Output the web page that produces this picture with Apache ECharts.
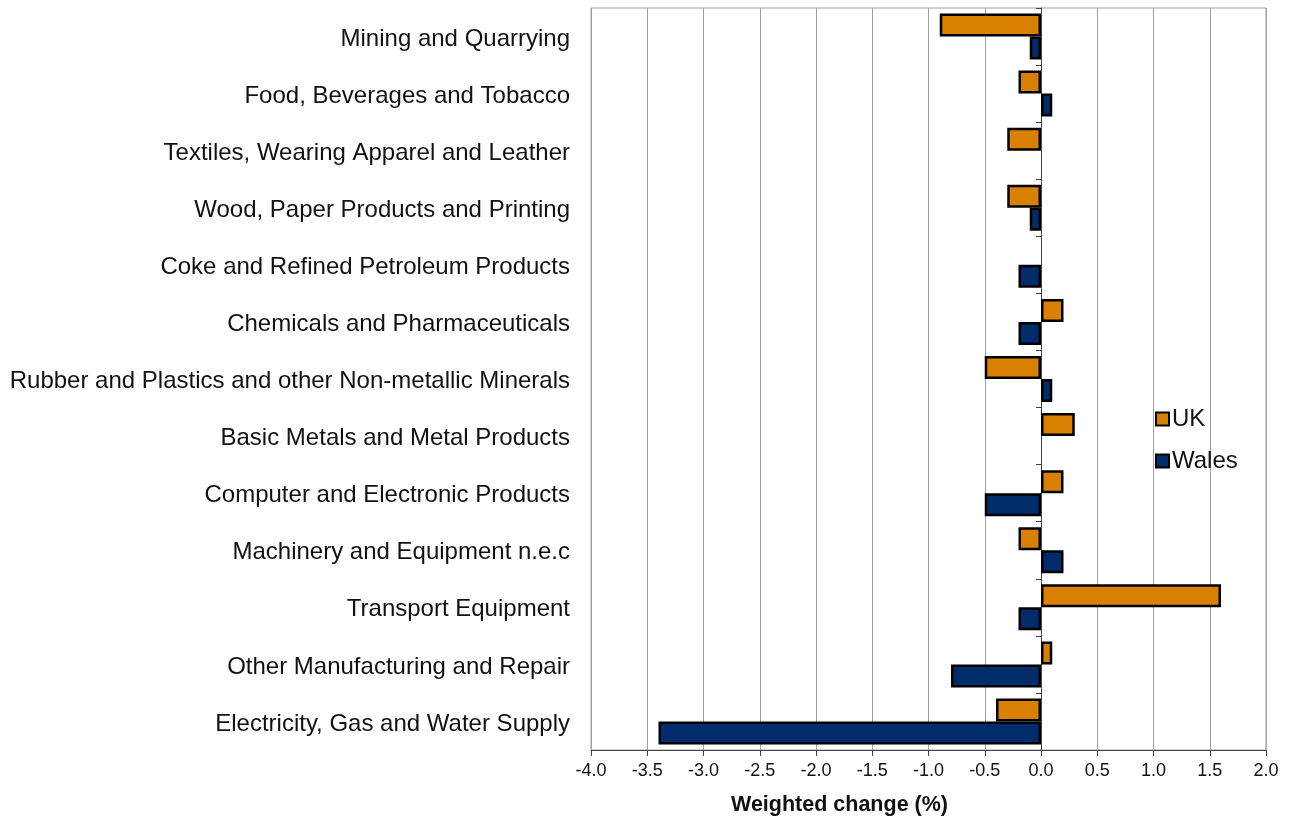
<!DOCTYPE html>
<html><head><meta charset="utf-8">
<script src="https://cdn.jsdelivr.net/npm/echarts@6/dist/echarts.min.js"></script>
<style>html,body{margin:0;padding:0;background:#fff}#c{width:1289px;height:819px}</style>
</head><body><div id="c"></div>
<script>
var categories = [
  "Mining and Quarrying",
  "Food, Beverages and Tobacco",
  "Textiles, Wearing Apparel and Leather",
  "Wood, Paper Products and Printing",
  "Coke and Refined Petroleum Products",
  "Chemicals and Pharmaceuticals",
  "Rubber and Plastics and other Non-metallic Minerals",
  "Basic Metals and Metal Products",
  "Computer and Electronic Products",
  "Machinery and Equipment n.e.c",
  "Transport Equipment",
  "Other Manufacturing and Repair",
  "Electricity, Gas and Water Supply"
];
var ukValues    = [-0.9, -0.2, -0.3, -0.3, 0.0, 0.2, -0.5, 0.3, 0.2, -0.2, 1.6, 0.1, -0.4];
var walesValues = [-0.1, 0.1, 0.0, -0.1, -0.2, -0.2, 0.1, 0.0, -0.5, 0.2, -0.2, -0.8, -3.4];
var seriesNames = ["UK", "Wales"];
var axisTitle = "Weighted change (%)";

function toData(arr) {
  return arr.map(function (v) {
    return v === 0 ? {value: v, itemStyle: {borderWidth: 0}} : v;
  });
}

var font = "Liberation Sans, Arial, sans-serif";
var chart = echarts.init(document.getElementById('c'), null, {renderer: 'canvas'});
chart.setOption({
  animation: false,
  backgroundColor: '#fff',
  title: {
    text: axisTitle, left: 726, top: 789,
    textStyle: {fontFamily: font, fontSize: 21.5, fontWeight: 'bold', color: '#111'}
  },
  legend: {
    data: seriesNames, orient: 'vertical', left: 1150, top: 402,
    itemWidth: 13, itemHeight: 13, itemGap: 18, itemStyle: {borderColor: '#000', borderWidth: 2},
    textStyle: {fontFamily: font, fontSize: 24, color: '#111', padding: [0,0,0,-2]},
    icon: 'rect'
  },
  grid: {left: 591, right: 23, top: 8, bottom: 69, show: true, borderColor: '#a0a0a0', borderWidth: 1},
  xAxis: {
    type: 'value', min: -4, max: 2, interval: 0.5,
    axisLine: {show: true, lineStyle: {color: '#444', width: 1}, onZero: false},
    axisTick: {show: true, length: 6, lineStyle: {color: '#444'}},
    axisLabel: {fontFamily: font, fontSize: 18, color: '#111', margin: 12,
      formatter: function(v){ return v.toFixed(1); }},
    splitLine: {show: true, lineStyle: {color: '#a0a0a0', width: 1}}
  },
  yAxis: [
    {
      type: 'category', data: categories, inverse: true,
      axisLine: {show: true, onZero: true, lineStyle: {color: '#444', width: 1}},
      axisTick: {show: true, length: 5, lineStyle: {color: '#444'}},
      axisLabel: {show: false}
    },
    {
      type: 'category', data: categories, inverse: true, position: 'left',
      axisLine: {show: false, onZero: false},
      axisTick: {show: false},
      axisLabel: {
        margin: 21,
        formatter: function (v) { return '{a|' + v + '}'; },
        rich: {a: {fontFamily: font, fontSize: 24, color: '#111', padding: [5, 0, 0, 0]}}
      }
    }
  ],
  series: [
    {name: seriesNames[0], type: 'bar', data: toData(ukValues), yAxisIndex: 0,
      barWidth: 23, barGap: '0%',
      itemStyle: {color: '#d98000', borderColor: '#000', borderWidth: 2.5}},
    {name: seriesNames[1], type: 'bar', data: toData(walesValues), yAxisIndex: 0,
      barWidth: 23, barGap: '0%',
      itemStyle: {color: '#002c6b', borderColor: '#000', borderWidth: 2.5}}
  ]
});
</script></body></html>
